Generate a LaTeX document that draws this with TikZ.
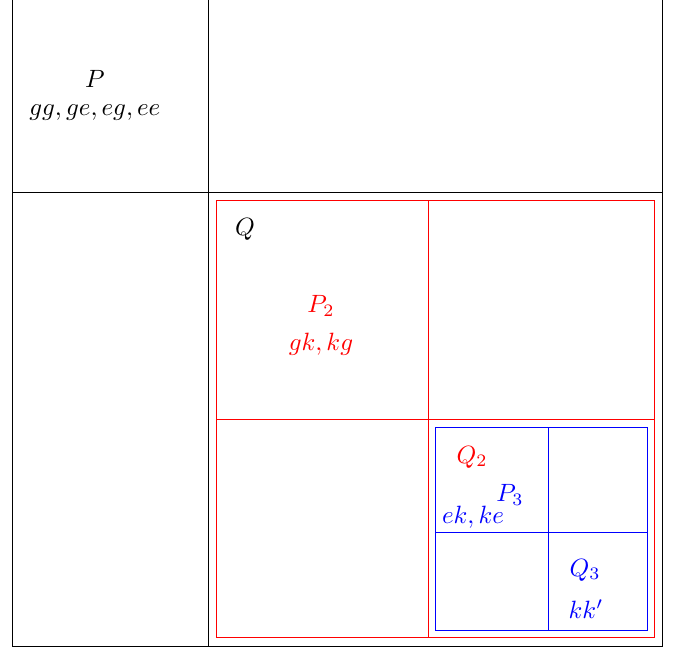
\documentclass[tikz,border=0pt]{standalone}
\begin{document}
\begin{tikzpicture}[x=0.4pt,y=-0.4pt,
  blk/.style={draw=black,line width=0.4pt},
  redl/.style={draw=red,line width=0.4pt},
  bluel/.style={draw=blue,line width=0.4pt},
  lbl/.style={inner sep=0pt,anchor=center}]
\useasboundingbox (0,0) rectangle (681,647);
% outer black frame
\draw[blk] (12,-6) rectangle (662,646);
\coordinate (hl) at (12,192); \coordinate (hr) at (662,192);
\coordinate (vt) at (208,-6); \coordinate (vb) at (208,646);
\draw[blk] (hl) -- (hr);
\draw[blk] (vt) -- (vb);
% red frame
\draw[redl] (216,200) rectangle (654,637);
\coordinate (rv1) at (428,200); \coordinate (rv2) at (428,637);
\coordinate (rh1) at (216,419); \coordinate (rh2) at (654,419);
\draw[redl] (rv1) -- (rv2);
\draw[redl] (rh1) -- (rh2);
% blue frame
\draw[bluel] (435,427) rectangle (647,630);
\coordinate (bv1) at (548,427); \coordinate (bv2) at (548,630);
\coordinate (bh1) at (435,532); \coordinate (bh2) at (647,532);
\draw[bluel] (bv1) -- (bv2);
\draw[bluel] (bh1) -- (bh2);
% labels
\node[lbl] (P) at (95,79) {$P$};
\node[lbl] (Pset) at (95,113) {$gg,ge,eg,ee$};
\node[lbl] (Q) at (245,229) {$Q$};
\node[lbl,text=red] (P2) at (321,306) {$P_2$};
\node[lbl,text=red] (P2set) at (321,344) {$gk,kg$};
\node[lbl,text=red] (Q2) at (472,457) {$Q_2$};
\node[lbl,text=blue] (P3) at (510,495) {$P_3$};
\node[lbl,text=blue] (P3set) at (473,517) {$ek,ke$};
\node[lbl,text=blue] (Q3) at (585,570) {$Q_3$};
\node[lbl,text=blue] (Q3set) at (586,609) {$kk'$};
\end{tikzpicture}
\end{document}
